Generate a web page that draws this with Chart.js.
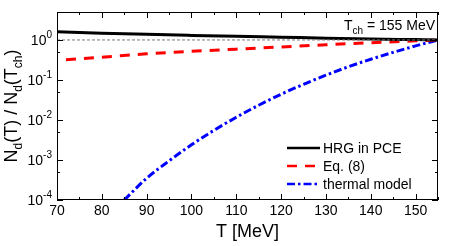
<!DOCTYPE html>
<html>
<head>
<meta charset="utf-8">
<script src="https://cdn.jsdelivr.net/npm/chart.js@4/dist/chart.umd.min.js"></script>
<style>
  html, body { margin: 0; padding: 0; background: #fff; }
  #wrap { width: 454px; height: 246px; }
</style>
</head>
<body>
<div id="wrap"><canvas id="ndChart" width="454" height="246"></canvas></div>
<script>
// data
const tHRG = [70, 80, 90, 100, 110, 120, 130, 140, 150, 155];
const nHRG = [1.6, 1.48, 1.38, 1.3, 1.23, 1.17, 1.11, 1.06, 1.02, 1.0];

const tEq8 = [72, 80, 90, 100, 110, 120, 130, 140, 150, 155];
const nEq8 = [0.32, 0.37, 0.45, 0.52, 0.59, 0.67, 0.76, 0.85, 0.95, 1.0];

const tThermal = [85, 90, 95, 100, 105, 110, 115, 120, 125, 130, 135, 140, 145, 150, 155];
const nThermal = [1.0e-4, 3.5e-4, 9.5e-4, 2.4e-3, 5.5e-3, 1.17e-2, 2.34e-2, 4.4e-2, 7.8e-2, 0.132, 0.214, 0.33, 0.49, 0.71, 1.0];

const tRef = [70, 155];
const nRef = [1, 1];

const xTicks = [70, 80, 90, 100, 110, 120, 130, 140, 150];
const yExponents = [-4, -3, -2, -1, 0];
const legendLabels = ['HRG in PCE', 'Eq. (8)', 'thermal model'];

const FONT = '"Liberation Sans", Arial, sans-serif';
const BLACK = '#000000';
const RED = '#ff0000';
const BLUE = '#0000ff';

function pts(xs, ys) {
    return xs.map((x, i) => ({ x: x, y: ys[i] }));
}

const DASH_RED = [10, 8];
const DASH_BLUE = [8, 3, 2.5, 3];

// frame, inward ticks, tick labels on y, y title, legend, note
const decor = {
    id: 'decor',
    afterDraw(chart) {
        const ctx = chart.ctx;
        const a = chart.chartArea;
        const xs = chart.scales.x;
        const ys = chart.scales.y;
        ctx.save();
        ctx.strokeStyle = BLACK;
        ctx.lineWidth = 1;
        ctx.strokeRect(a.left + 0.5, a.top + 0.5, a.right - a.left - 1, a.bottom - a.top - 1);

        ctx.beginPath();
        for (let t = 70; t <= 155; t += 5) {
            const px = Math.round(xs.getPixelForValue(t)) + 0.5;
            const len = (t % 10 === 0) ? 6 : 3;
            ctx.moveTo(px, a.bottom); ctx.lineTo(px, a.bottom - len);
            ctx.moveTo(px, a.top); ctx.lineTo(px, a.top + len);
        }
        for (let e = -4; e <= 0; e++) {
            const vals = [[Math.pow(10, e), 6], [5 * Math.pow(10, e), 3]];
            vals.forEach(v => {
                const py = Math.round(ys.getPixelForValue(v[0])) + 0.5;
                ctx.moveTo(a.left, py); ctx.lineTo(a.left + v[1], py);
                ctx.moveTo(a.right, py); ctx.lineTo(a.right - v[1], py);
            });
        }
        ctx.stroke();

        // y tick labels 10^n
        ctx.fillStyle = BLACK;
        yExponents.forEach(e => {
            const py = ys.getPixelForValue(Math.pow(10, e));
            const sup = String(e);
            ctx.font = '10px ' + FONT;
            const sw = ctx.measureText(sup).width;
            ctx.textBaseline = 'middle';
            ctx.textAlign = 'left';
            ctx.fillText(sup, 52 - sw, py - 5);
            ctx.font = '14px ' + FONT;
            ctx.textAlign = 'right';
            ctx.fillText('10', 52 - sw, py + 1);
        });

        // y title N_d(T) / N_d(T_ch)
        const parts = [
            ['N', 18, 0], ['d', 12, 5], ['(T) / N', 18, 0], ['d', 12, 5], ['(T', 18, 0], ['ch', 12, 5], [')', 18, 0]
        ];
        let total = 0;
        parts.forEach(p => { ctx.font = p[1] + 'px ' + FONT; total += ctx.measureText(p[0]).width; });
        ctx.translate(17, (a.top + a.bottom) / 2);
        ctx.rotate(-Math.PI / 2);
        ctx.textAlign = 'left';
        ctx.textBaseline = 'alphabetic';
        let cx = -total / 2;
        parts.forEach(p => {
            ctx.font = p[1] + 'px ' + FONT;
            ctx.fillText(p[0], cx, p[2]);
            cx += ctx.measureText(p[0]).width;
        });
        ctx.restore();

        // note T_ch = 155 MeV
        ctx.save();
        ctx.fillStyle = BLACK;
        ctx.textBaseline = 'alphabetic';
        ctx.textAlign = 'left';
        ctx.font = '14px ' + FONT;
        const rest = ' = 155 MeV';
        const wRest = ctx.measureText(rest).width;
        const wT = ctx.measureText('T').width;
        ctx.font = '10px ' + FONT;
        const wCh = ctx.measureText('ch').width;
        let nx = 435 - wRest - wCh - wT;
        ctx.font = '14px ' + FONT;
        ctx.fillText('T', nx, 30);
        ctx.font = '10px ' + FONT;
        ctx.fillText('ch', nx + wT, 34);
        ctx.font = '14px ' + FONT;
        ctx.fillText(rest, nx + wT + wCh, 30);

        // legend
        const styles = [[BLACK, []], [RED, DASH_RED], [BLUE, DASH_BLUE]];
        const rows = [148, 166, 184];
        legendLabels.forEach((lab, i) => {
            ctx.beginPath();
            ctx.strokeStyle = styles[i][0];
            ctx.lineWidth = 2.5;
            ctx.setLineDash(styles[i][1]);
            ctx.moveTo(287, rows[i]); ctx.lineTo(320, rows[i]);
            ctx.stroke();
            ctx.setLineDash([]);
            ctx.fillStyle = BLACK;
            ctx.font = '14px ' + FONT;
            ctx.textBaseline = 'middle';
            ctx.fillText(lab, 323, rows[i] + 1);
        });
        ctx.restore();
    }
};

new Chart(document.getElementById('ndChart'), {
    type: 'line',
    data: {
        datasets: [
            {
                data: pts(tRef, nRef),
                borderColor: '#777777',
                borderWidth: 1,
                borderDash: [3, 2],
                pointRadius: 0
            },
            {
                label: legendLabels[0],
                data: pts(tHRG, nHRG),
                borderColor: BLACK,
                borderWidth: 3,
                pointRadius: 0,
                cubicInterpolationMode: 'monotone'
            },
            {
                label: legendLabels[1],
                data: pts(tEq8, nEq8),
                borderColor: RED,
                borderWidth: 3,
                borderDash: DASH_RED,
                pointRadius: 0,
                cubicInterpolationMode: 'monotone'
            },
            {
                label: legendLabels[2],
                data: pts(tThermal, nThermal),
                borderColor: BLUE,
                borderWidth: 3,
                borderDash: DASH_BLUE,
                pointRadius: 0,
                cubicInterpolationMode: 'monotone'
            }
        ]
    },
    options: {
        responsive: false,
        animation: false,
        layout: { padding: { left: 0, right: 16, top: 12, bottom: 0 } },
        plugins: {
            legend: { display: false },
            tooltip: { enabled: false }
        },
        scales: {
            x: {
                type: 'linear',
                min: 70,
                max: 155,
                grid: { display: false, drawTicks: false },
                border: { display: false },
                ticks: {
                    stepSize: 10,
                    includeBounds: false,
                    padding: 3,
                    color: BLACK,
                    font: { family: FONT, size: 14 },
                    maxRotation: 0,
                    callback: v => xTicks.includes(v) ? String(v) : ''
                },
                title: {
                    display: true,
                    text: 'T [MeV]',
                    color: BLACK,
                    font: { family: FONT, size: 18 },
                    padding: { top: 0, bottom: 3 }
                },
                afterFit: s => { s.height = 46; }
            },
            y: {
                type: 'logarithmic',
                min: 1e-4,
                max: 5,
                grid: { display: false, drawTicks: false },
                border: { display: false },
                ticks: { display: false },
                afterFit: s => { s.width = 57; }
            }
        }
    },
    plugins: [decor]
});
</script>
</body>
</html>
